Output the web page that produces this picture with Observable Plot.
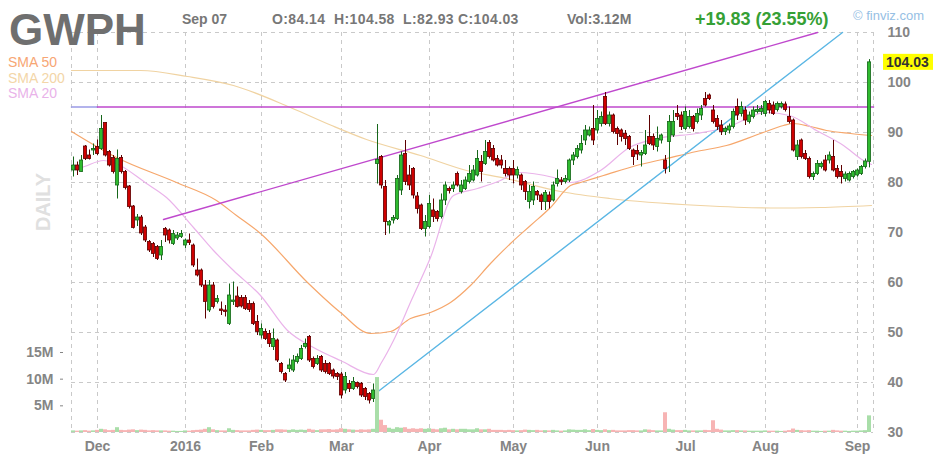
<!DOCTYPE html>
<html><head><meta charset="utf-8">
<script src="https://cdn.jsdelivr.net/npm/d3@7"></script>
<script src="https://cdn.jsdelivr.net/npm/@observablehq/plot@0.6"></script>
<style>
body{margin:0;background:#fff;}
#chart{position:relative;width:949px;height:460px;overflow:hidden;font-family:"Liberation Sans",Arial,sans-serif;background:#fff;}
#chart svg{position:absolute;left:0;top:0;}
</style></head><body><div id="chart"></div>
<script>
// ---------- header texts ----------
const ticker = "GWPH";
const headerDate = "Sep 07";
const headerOHLC = ["O:84.14", "H:104.58", "L:82.93", "C:104.03"];
const headerVol = "Vol:3.12M";
const headerChange = "+19.83 (23.55%)";
const brand = "\u00A9 finviz.com";
const smaLabels = ["SMA 50", "SMA 200", "SMA 20"];
const timeframe = "DAILY";

// ---------- axes ----------
const monthTickIndex = [6, 28, 47, 67, 89, 110, 131, 153, 173, 196];
const monthTickLabel = ["Dec", "2016", "Feb", "Mar", "Apr", "May", "Jun", "Jul", "Aug", "Sep"];
const priceTicks = [30, 40, 50, 60, 70, 80, 90, 100, 110];
const volumeTicks = [5, 10, 15];
const volumeTickLabel = ["5M", "10M", "15M"];

// ---------- daily candles (trading-day index 0 = Nov 20 2015 ... 199 = Sep 7 2016) ----------
const open = [
82.4,83.4,82.1,87.2,85.4,86.4,87.1,86.7,91.9,86.1,
84.9,79.4,84.9,82.1,79.2,75.2,72.4,73.0,71.0,68.1,
67.7,67.1,65.4,70.7,70.4,67.7,68.8,69.1,67.4,68.4,
67.4,62.4,62.4,59.4,54.4,59.4,56.1,54.6,54.4,51.7,
56.1,57.2,56.9,56.9,55.7,55.7,52.1,49.4,50.1,49.7,
47.1,48.4,43.7,41.7,42.7,42.4,44.1,44.7,47.1,49.1,
44.7,43.7,45.1,43.7,43.7,42.4,41.7,41.6,38.4,39.7,
38.7,39.9,39.7,38.7,37.7,36.7,83.7,85.1,79.1,71.4,
72.4,72.7,78.4,85.7,81.4,82.7,77.2,75.4,70.7,71.1,
74.4,74.1,73.1,76.4,78.7,78.7,81.7,78.1,78.7,80.1,
80.4,81.4,84.1,83.7,87.9,86.7,84.7,84.4,82.7,82.7,
82.7,81.4,81.4,80.1,76.1,76.4,78.1,77.4,76.1,77.4,
76.4,79.7,80.4,80.1,80.4,84.4,85.1,86.4,88.4,89.4,
90.7,90.4,91.7,97.1,91.7,93.4,90.7,90.4,89.7,89.1,
86.4,86.3,85.4,85.7,89.1,89.1,87.1,88.4,84.4,88.1,
89.4,93.7,93.4,90.7,91.1,93.1,92.1,93.4,96.7,97.4,
94.4,92.7,91.4,90.1,90.4,91.1,95.1,93.7,94.4,92.1,
93.1,94.1,94.1,93.7,95.7,95.4,94.5,95.1,95.6,93.1,
92.4,85.1,88.4,85.7,84.7,81.1,81.7,83.1,84.4,84.4,
85.1,82.7,82.1,80.7,80.4,81.1,81.4,81.7,83.1,84.14];
const high = [
85.1,84.1,85.4,87.4,86.5,87.7,88.5,93.4,91.9,86.4,
85.4,86.5,85.4,82.4,79.4,75.4,73.6,73.4,71.4,68.4,
68.0,67.4,68.4,71.0,70.7,70.4,70.0,70.4,68.7,69.7,
67.7,64.7,62.7,60.4,60.4,60.0,57.4,56.1,55.4,59.7,
60.1,59.1,57.4,57.4,56.4,56.1,53.4,51.7,50.7,50.4,
50.7,48.7,44.0,42.0,44.7,45.4,45.7,47.4,48.7,49.4,
45.1,45.4,45.4,44.4,44.0,42.7,42.0,42.0,42.0,40.4,
41.0,40.1,40.0,39.0,38.0,39.7,91.6,85.4,80.4,72.4,
73.4,81.4,86.1,88.4,83.4,83.0,78.0,75.7,73.4,77.4,
76.7,74.4,77.7,80.1,79.1,80.1,82.1,80.4,81.1,83.4,
83.4,86.4,85.4,88.4,88.4,87.4,85.4,85.4,84.4,83.1,
84.4,83.1,81.7,80.4,79.4,80.1,78.4,77.7,78.4,78.1,
80.1,82.5,81.0,81.4,84.7,86.0,87.4,89.4,91.4,91.1,
95.4,94.4,94.1,98.0,94.1,93.7,91.1,90.7,90.4,89.4,
86.7,87.4,86.4,90.4,93.4,89.7,91.1,89.7,85.4,93.4,
94.4,95.4,94.1,95.1,94.4,93.4,94.7,95.4,98.0,97.7,
95.4,93.4,92.4,91.1,91.7,94.7,96.7,96.1,95.1,94.1,
95.1,95.4,95.4,96.4,96.4,96.1,96.1,96.1,96.1,95.1,
92.7,88.4,88.7,86.4,85.1,82.1,84.4,84.1,85.4,86.1,
88.4,83.4,83.4,82.1,82.1,82.4,82.7,83.4,84.7,104.58];
const low = [
81.1,81.4,82.1,84.4,84.5,85.4,85.4,86.4,85.1,83.1,
81.7,76.7,81.7,78.5,74.7,70.7,71.2,69.4,68.0,66.0,
65.0,64.4,64.4,68.0,67.7,67.4,68.4,68.8,66.8,67.4,
63.0,61.1,59.0,52.7,54.0,54.7,55.7,53.4,53.1,51.4,
55.4,54.9,54.9,54.4,54.0,51.4,49.4,48.7,48.4,47.0,
46.4,44.0,41.7,40.0,42.0,42.0,43.7,44.4,46.7,44.0,
42.7,43.4,42.0,41.7,41.4,40.7,40.4,36.7,37.7,38.0,
38.4,38.7,37.0,36.4,35.7,36.0,79.7,78.7,69.4,69.7,
71.7,72.4,77.4,79.4,78.4,76.7,73.7,70.4,69.1,70.7,
72.0,72.1,72.7,75.4,77.7,78.0,79.1,77.7,78.4,79.7,
80.1,81.1,80.1,83.4,84.7,84.1,83.1,82.7,81.1,80.4,
79.7,80.7,78.4,76.4,74.7,75.4,76.4,74.4,74.4,74.7,
76.1,79.1,79.4,79.7,80.0,83.4,84.7,85.7,87.4,89.1,
87.4,89.7,91.1,91.4,91.1,89.7,87.4,88.1,87.4,86.4,
83.4,84.4,83.1,85.4,87.4,86.4,86.1,87.7,81.7,82.0,
89.0,92.4,90.4,90.4,90.7,90.1,91.7,92.4,95.1,96.4,
91.7,90.4,89.4,89.4,89.7,90.7,92.4,93.1,91.4,91.7,
92.7,93.7,93.4,93.1,93.7,93.4,94.1,94.7,94.1,91.7,
86.1,84.4,84.7,84.4,80.7,80.4,81.4,82.7,82.1,83.7,
82.1,80.7,79.7,80.1,80.1,80.7,81.1,81.4,82.7,82.93];
const close = [
83.4,82.4,84.4,84.7,84.7,86.7,85.7,90.7,85.4,83.4,
82.1,84.7,82.1,78.9,75.1,70.9,73.0,69.8,68.4,66.4,
65.7,64.7,67.1,69.4,68.4,69.7,69.4,69.7,68.4,67.9,
63.4,61.4,59.4,56.1,59.4,55.1,56.7,54.3,54.1,57.4,
56.4,55.1,55.2,54.7,54.5,51.7,50.1,50.7,48.7,47.7,
48.7,44.4,42.1,40.4,43.4,44.4,45.1,46.7,47.7,44.4,
43.1,44.7,42.4,42.1,41.7,41.2,41.1,37.4,41.1,38.7,
40.1,39.1,37.4,37.1,36.4,38.4,84.5,79.4,72.1,72.1,
72.9,80.7,85.4,80.1,79.4,77.4,74.7,70.7,72.1,75.7,
73.1,72.7,76.4,79.4,78.3,79.4,79.4,79.4,80.4,81.7,
82.4,84.7,82.1,86.1,85.1,84.4,83.4,83.4,81.7,81.4,
81.4,82.5,79.4,78.1,78.1,79.1,77.4,76.1,77.9,76.1,
79.4,80.7,80.1,80.7,84.4,85.4,86.7,87.7,90.4,90.4,
88.4,92.7,93.1,91.7,93.4,90.1,89.7,89.1,88.7,86.7,
85.1,85.6,85.9,87.4,87.7,87.4,88.7,89.4,82.7,92.1,
92.1,93.1,91.1,94.1,93.1,90.7,93.7,94.7,95.4,96.7,
92.1,91.1,90.1,90.7,91.2,94.1,93.4,95.1,92.4,93.4,
94.4,94.5,94.7,96.1,94.4,93.7,95.7,95.7,94.5,92.1,
86.4,87.4,85.1,84.7,81.1,81.7,83.7,83.7,82.4,85.4,
82.4,81.1,81.1,81.6,81.7,82.1,82.4,83.1,84.2,104.03];
// volume in millions of shares
const volume = [
0.3,0.25,0.3,0.35,0.25,0.3,0.4,0.6,0.5,0.35,
0.4,0.9,0.4,0.35,0.45,0.5,0.35,0.45,0.4,0.3,
0.35,0.3,0.3,0.3,0.25,0.25,0.2,0.2,0.3,0.25,
0.35,0.4,0.45,0.6,0.9,0.5,0.35,0.3,0.3,0.7,
0.4,0.35,0.3,0.3,0.3,0.4,0.45,0.4,0.35,0.35,
0.4,0.5,0.5,0.45,0.4,0.5,0.4,0.45,0.4,0.6,
0.45,0.35,0.5,0.5,0.55,0.45,0.5,0.7,0.6,0.5,
0.45,0.4,0.5,0.45,0.5,0.6,10.3,2.3,1.3,0.8,
0.6,0.9,0.8,0.9,0.6,0.7,0.6,0.7,0.6,0.7,
0.6,0.5,0.7,0.8,0.5,0.6,0.5,0.6,0.6,0.5,
0.5,0.7,0.5,0.5,0.6,0.4,0.4,0.4,0.35,0.4,
0.35,0.3,0.35,0.45,0.4,0.35,0.4,0.3,0.35,0.3,
0.4,0.3,0.25,0.3,0.5,0.45,0.4,0.4,0.5,0.35,
0.55,0.4,0.35,0.5,0.35,0.4,0.3,0.3,0.3,0.35,
0.35,0.3,0.3,0.5,0.45,0.35,0.3,0.3,3.7,0.6,
0.45,0.35,0.35,0.4,0.3,0.3,0.3,0.3,0.4,0.35,
2.2,0.6,0.45,0.3,0.3,0.35,0.35,0.3,0.3,0.25,
0.25,0.25,0.25,0.3,0.25,0.25,0.25,0.2,0.25,0.35,
0.65,0.4,0.35,0.3,0.35,0.25,0.25,0.2,0.25,0.25,
0.4,0.3,0.25,0.25,0.2,0.25,0.25,0.3,0.35,3.12];

// ---------- moving averages as [index, price] ----------
const sma50 = [[-0.5,90.2],[10.75,85],[25.75,80],[35.75,76.4],[40.75,73.4],[46.75,69.8],[58.5,60],[66.75,54],[74.25,49.8],[79.25,50.2],[84.25,52.8],[89.25,54],[94.25,56],[99.25,59.4],[104.25,63.8],[109.25,67.8],[114.25,71.4],[119.25,75],[124.25,79.4],[126.75,80],[132.5,81.4],[140.75,83.4],[148.25,84.8],[155.75,86.2],[163.25,87.4],[171.75,89.8],[177.5,91.4],[180,91.8],[184.25,91.2],[188.25,90.4],[194.25,89.8],[199.5,89.4]];
const sma200 = [[-0.5,102.4],[16.75,102.4],[28.5,101.2],[40,99.4],[54.25,95],[64.25,91.5],[73.25,88.6],[86.75,85.4],[98.25,82.4],[108.25,80.8],[121.75,78.2],[134,76.8],[156.75,75.4],[174.25,74.9],[186.75,75.0],[199.5,75.4]];
const sma20 = [[-0.5,82.6],[2,83.0],[7.5,84.4],[10,84.0],[18.25,79.8],[23.25,77],[30,71],[35,66.4],[40,62.4],[46.75,57.4],[53.5,50.4],[60,47],[66.75,44.4],[75,41.6],[77,44],[80,48.4],[84.5,56.5],[89.25,65],[95,77.4],[101,78.8],[106.75,80.4],[111,82],[120,81],[124.25,80],[131.75,82.4],[139,87],[145.75,88.8],[155.75,89.8],[163.25,91],[173.25,94],[179,93.4],[185.75,90.4],[192.5,87.4],[197.5,84.4],[199.5,83.6]];

// ---------- drawn trend lines [index, price] ----------
const resistanceLeft = [[-0.5,95.1],[6,95.1]];
const resistance = [[6,95.1],[200,95.1]];
const upperTrend = [[22.5,72.6],[186,110]];
const supportTrend = [[75.5,37.8],[192.25,110]];

// ---------- build ----------
const candles = d3.range(close.length).map(i => ({i, o: open[i], h: high[i], l: low[i], c: close[i], v: volume[i], up: close[i] >= open[i]}));
const ups = candles.filter(d => d.up), downs = candles.filter(d => !d.up);
const xDomain = [-0.5, 200];
const grid = "#c9c9c9";
const axisColor = "#858585";
const font = "'Liberation Sans', Arial, sans-serif";
const common = {width: 949, height: 460, marginLeft: 71, marginRight: 76, marginTop: 32, marginBottom: 28,
  style: {background: "transparent", fontFamily: font, fontSize: "14px", fontWeight: "bold", overflow: "visible"}};

const pricePlot = Plot.plot({
  ...common,
  x: {domain: xDomain},
  y: {domain: [30, 110]},
  marks: [
    Plot.ruleY(priceTicks, {stroke: grid, strokeDasharray: "4,4"}),
    Plot.ruleX(monthTickIndex, {stroke: grid, strokeDasharray: "4,4"}),
    Plot.ruleX(xDomain, {stroke: grid, strokeDasharray: "4,4"}),
    Plot.line(sma200, {x: d => d[0], y: d => d[1], stroke: "#f0d3a2", strokeWidth: 1.2, curve: "monotone-x"}),
    Plot.line(sma50, {x: d => d[0], y: d => d[1], stroke: "#f6a76c", strokeWidth: 1.2, curve: "monotone-x"}),
    Plot.line(sma20, {x: d => d[0], y: d => d[1], stroke: "#eab3ea", strokeWidth: 1.2, curve: "monotone-x"}),
    Plot.line(resistanceLeft, {x: d => d[0], y: d => d[1], stroke: "#9b9be6", strokeWidth: 1.6}),
    Plot.line(resistance, {x: d => d[0], y: d => d[1], stroke: "#bf48cd", strokeWidth: 1.6}),
    Plot.line(upperTrend, {x: d => d[0], y: d => d[1], stroke: "#bf48cd", strokeWidth: 1.4}),
    Plot.line(supportTrend, {x: d => d[0], y: d => d[1], stroke: "#5ab6e4", strokeWidth: 1.4}),
    Plot.ruleX(ups, {x: "i", y1: "l", y2: "h", stroke: "#16661a", strokeWidth: 1}),
    Plot.ruleX(downs, {x: "i", y1: "l", y2: "h", stroke: "#5e0000", strokeWidth: 1}),
    Plot.rect(ups, {x1: d => d.i - 0.4, x2: d => d.i + 0.4, y1: "o", y2: "c", fill: "#2fbb2f", stroke: "#16661a", strokeWidth: 0.8}),
    Plot.rect(downs, {x1: d => d.i - 0.4, x2: d => d.i + 0.4, y1: "o", y2: "c", fill: "#cf0000", stroke: "#5e0000", strokeWidth: 0.8}),
    Plot.axisY({anchor: "right", ticks: priceTicks, tickSize: 0, tickPadding: 14, label: null, color: axisColor}),
    Plot.axisX({ticks: monthTickIndex, tickFormat: d => monthTickLabel[monthTickIndex.indexOf(d)], tickSize: 0, tickPadding: 9, label: null, color: axisColor})
  ]
});

const volPlot = Plot.plot({
  ...common,
  x: {domain: xDomain, axis: null},
  y: {domain: [0, 75]},
  marks: [
    Plot.rect(ups, {x1: d => d.i - 0.5, x2: d => d.i + 0.5, y1: 0, y2: "v", fill: "#a9dea9"}),
    Plot.rect(downs, {x1: d => d.i - 0.5, x2: d => d.i + 0.5, y1: 0, y2: "v", fill: "#f7b4b4"}),
    Plot.axisY({anchor: "left", ticks: volumeTicks, tickFormat: d => volumeTickLabel[volumeTicks.indexOf(d)], tickSize: 3, tickPadding: 7, dx: -8, label: null, color: axisColor})
  ]
});

const chart = document.getElementById("chart");
chart.appendChild(pricePlot);
chart.appendChild(volPlot);

// ---------- header / labels overlay ----------
const yScale = pricePlot.scale("y");
const ov = d3.select(chart).append("svg").attr("width", 949).attr("height", 460)
  .style("font-family", font).style("pointer-events", "none");
function txt(s, x, y, size, fill, weight, anchor) {
  return ov.append("text").attr("x", x).attr("y", y).attr("font-size", size).attr("fill", fill)
    .attr("font-weight", weight || "normal").attr("text-anchor", anchor || "start").text(s);
}
txt(ticker, 9, 45, 44, "#6f6f6f", "bold");
txt(headerDate, 182, 23.5, 14, "#777", "bold");
const ohlcX = [272, 334, 403, 458];
headerOHLC.forEach((s, k) => txt(s, ohlcX[k], 23.5, 14, "#777", "bold").attr("letter-spacing", 0.4));
txt(headerVol, 567, 23.5, 14, "#777", "bold");
txt(headerChange, 695, 25, 18, "#35a035", "bold");
txt(brand, 853, 20, 13, "#96c0e4", "normal");
const smaColors = ["#f7a674", "#f3d6a8", "#e9b3e9"];
const smaBase = [66.7, 82.7, 98];
smaLabels.forEach((s, k) => txt(s, 8, smaBase[k], 14, smaColors[k], "normal"));
txt(timeframe, 0, 0, 20, "#e0e0e0", "bold", "middle").attr("transform", "translate(50,202) rotate(-90)");
// last price badge
const lastY = yScale.apply(close[close.length - 1]);
ov.append("rect").attr("x", 883).attr("y", lastY - 8).attr("width", 50).attr("height", 16).attr("fill", "#ffff00");
txt(close[close.length - 1].toFixed(2), 886, lastY + 5, 14, "#333", "bold");
</script></body></html>
